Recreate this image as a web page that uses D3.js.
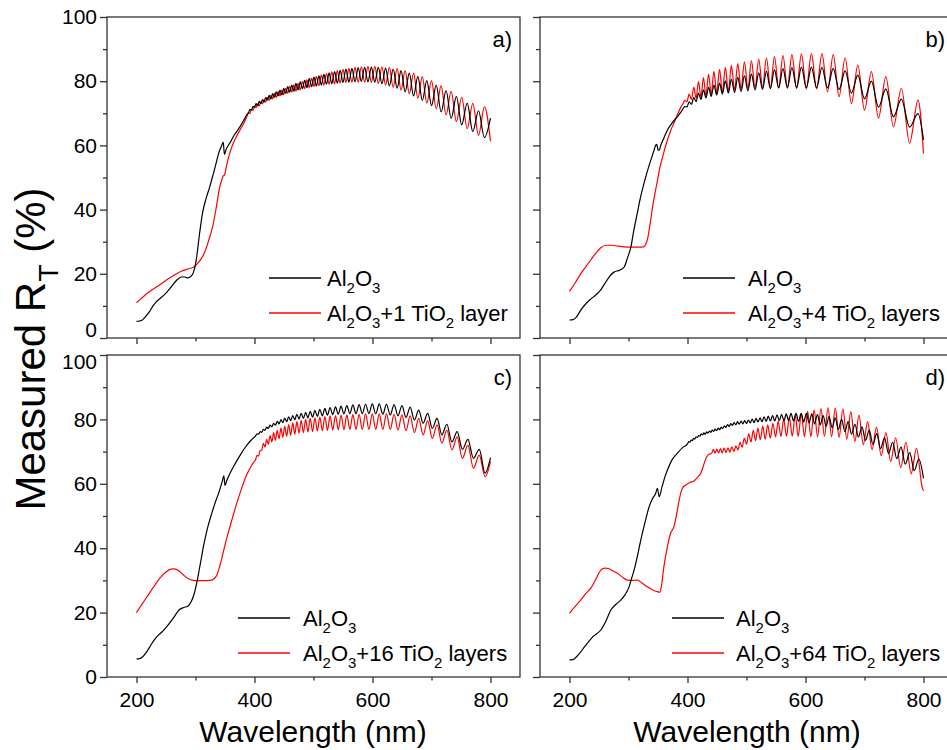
<!DOCTYPE html>
<html><head><meta charset="utf-8">
<script src="https://cdn.jsdelivr.net/npm/d3@7"></script>
<style>
body{margin:0;background:#fff;}
svg{display:block;font-family:Arial,"Liberation Sans",sans-serif;}
text{white-space:pre;}
</style></head><body>
<svg id="chart" width="947" height="750"></svg>
<script>
// ---------- axis / text data ----------
const xDomain = [150, 850];
const yDomain = [0, 100];
const xTicks = [200, 400, 600, 800];
const xMinor = [300, 500, 700];
const yTicks = [0, 20, 40, 60, 80, 100];
const yMinor = [10, 30, 50, 70, 90];
const panelLabels = ["a)", "b)", "c)", "d)"];
const blackName = "Al_{2}O_{3}";
const redNames = ["Al_{2}O_{3}+1 TiO_{2} layer", "Al_{2}O_{3}+4 TiO_{2} layers",
                  "Al_{2}O_{3}+16 TiO_{2} layers", "Al_{2}O_{3}+64 TiO_{2} layers"];
const xTitle = "Wavelength (nm)";
const yTitle = "Measured R_{T} (%)";

// ---------- panel a ----------
const aBlackLow = [[200,5.2],[205,5.3],[210,5.6],[216,6.8],[222,8.2],[228,10],[233,11.2],[240,12.3],[250,14],[260,16.2],[268,18],[276,19],[282,19],[287,18.7],[292,19.2],[296,20.2],[301,24],[307,32.7],[312,39],[318,43.5],[324,47],[330,51],[335,54.5],[340,58],[344,59.8],[347,61],[349,57.2],[352,58.8],[358,60.7],[366,63.3],[375,65.7],[383,68.2],[388,69.8]];
const aRedLow = [[200,11],[210,12.6],[220,14.2],[233,15.8],[245,17.3],[255,18.6],[265,19.7],[275,20.7],[285,21.4],[293,21.8],[298,22.2],[304,23.3],[310,24.8],[315,26.5],[320,29],[325,32],[329,34.6],[335,40.5],[341,47],[345,49.5],[347,50.5],[349,50.8],[353,54],[358,57.6],[363,60.2],[369,62.6],[376,65],[383,67.3],[388,69.4]];
const aWave = [389.9,392.4,394.9,397.4,400.0,402.6,405.3,407.9,410.7,413.4,416.2,419.0,421.9,424.8,427.8,430.8,433.8,436.9,440.0,443.2,446.4,449.6,452.9,456.3,459.7,463.2,466.7,470.2,473.8,477.5,481.3,485.0,488.9,492.8,496.8,500.8,504.9,509.1,513.3,517.6,522.0,526.5,531.0,535.7,540.4,545.1,550.0,555.0,560.0,565.1,570.4,575.7,581.1,586.7,592.3,598.1,603.9,609.9,616.0,622.2,628.6,635.1,641.7,648.4,655.3,662.4,669.6,676.9,684.4,692.1,700.0,708.0,716.3,724.7,733.3,742.2,751.2,760.5,770.0,779.7,789.7,800.0];
const aBlackFr = [70.2,71.2,71.0,72.2,71.9,73.0,72.4,73.7,73.0,74.3,73.5,75.0,74.1,75.6,74.5,76.1,75.0,76.7,75.4,77.2,75.7,77.8,76.2,78.3,76.6,78.8,76.9,79.3,77.3,79.8,77.7,80.3,78.0,80.8,78.3,81.3,78.5,81.7,78.8,82.1,79.1,82.6,79.2,83.0,79.4,83.4,79.6,83.8,79.7,84.0,79.8,84.2,79.9,84.3,79.8,84.4,79.7,84.3,79.2,84.1,78.5,83.8,77.8,83.3,76.7,82.5,75.4,81.5,74.0,80.2,72.4,78.8,70.4,77.1,68.4,75.3,66.4,73.2,64.3,70.8,62.4,68.5];
const aRedFr = [70.1,70.0,71.2,70.9,72.2,71.7,72.9,72.3,73.6,72.9,74.3,73.5,75.0,74.0,75.6,74.5,76.2,74.9,76.8,75.4,77.3,75.8,77.8,76.2,78.4,76.6,78.9,76.9,79.3,77.3,79.9,77.7,80.4,78.0,80.9,78.3,81.4,78.6,81.9,78.8,82.4,79.1,82.9,79.2,83.3,79.4,83.7,79.6,84.0,79.7,84.3,79.7,84.5,79.7,84.6,79.6,84.6,79.3,84.5,78.8,84.3,78.1,83.9,77.2,83.3,76.1,82.5,74.7,81.4,73.2,80.2,71.4,78.6,69.5,76.8,67.4,75.0,65.2,73.1,63.1,72.0,61.3];

// ---------- panel b ----------
const bBlackLow = [[200,5.6],[206,5.7],[212,6.6],[219,8.7],[227,10.5],[235,12],[244,13.3],[253,15],[260,17],[268,19.2],[276,20.6],[283,21],[288,21.4],[293,22.2],[298,24.8],[304,28.3],[309,33.5],[315,39],[320,43.5],[326,48],[332,52],[338,55.5],[343,58.3],[346,60],[348,60.3],[350,58.6],[352,58.5],[355,60.2],[360,62.3],[366,64.8],[374,67],[383,69],[390,70.7]];
const bRedLow = [[200,14.5],[210,17.3],[220,20.3],[228,22.3],[236,24.3],[245,26.5],[253,28.1],[262,28.9],[272,28.9],[282,28.6],[292,28.4],[304,28.3],[316,28.3],[326,28.4],[330,29.5],[333,31.5],[337,36],[341,41],[345,45.2],[349,49],[353,53],[358,56.5],[362,59.3],[366,61.7],[371,64.4],[377,67],[383,69.6],[389,72],[393,73.2]];
const bWave = [395.4,399.1,402.8,406.7,410.6,414.6,418.6,422.8,427.0,431.3,435.7,440.2,444.8,449.5,454.3,459.1,464.1,469.2,474.4,479.8,485.2,490.8,496.5,502.4,508.3,514.5,520.7,527.2,533.8,540.5,547.4,554.5,561.8,569.3,577.0,584.9,593.1,601.4,610.0,618.8,627.9,637.3,647.0,656.9,667.2,677.8,688.7,700.0,711.7,723.7,736.2,749.1,762.5,776.4,790.7,800.0];
const bBlackFr = [72.1,72.0,73.6,72.8,74.9,73.6,76.3,74.3,77.3,74.8,78.1,75.3,78.8,75.7,79.4,76.0,80.1,76.3,80.6,76.5,81.2,76.8,81.7,77.0,82.2,77.3,82.6,77.5,83.1,77.7,83.5,77.9,83.9,78.0,84.2,78.0,84.4,78.0,84.4,78.0,84.3,77.9,84.0,77.4,83.2,76.3,81.9,74.5,80.0,71.9,77.6,68.9,74.4,65.7,69.9,61.7];
const bRedFr = [74.0,73.6,76.0,74.3,78.2,74.7,79.9,75.0,81.1,75.4,82.2,75.9,83.1,76.2,83.7,76.5,84.3,76.8,84.9,77.2,85.5,77.5,86.0,77.7,86.4,77.8,86.9,77.9,87.3,77.9,87.7,77.9,88.0,77.8,88.3,77.7,88.5,77.6,88.6,77.6,88.6,76.7,88.3,75.2,87.3,73.0,85.0,71.0,83.0,68.5,81.4,65.8,77.8,60.7,74.1,57.5];

// ---------- panel c ----------
const cBlackLow = [[200,5.6],[205,5.7],[210,6.2],[216,7.5],[222,9.2],[228,11],[235,12.6],[245,14.3],[255,16.5],[265,19],[272,20.8],[280,21.6],[287,22],[293,23.5],[298,26],[303,30],[308,35],[314,41],[320,46],[327,50.5],[334,54.5],[340,57.5],[345,60.5],[348,62.5],[350,59.5],[353,61],[360,63.8],[368,66.5],[376,69],[385,71.5],[393,73.3],[399,74.4]];
const cRedLow = [[200,20],[210,22.8],[220,25.5],[230,28.2],[240,30.8],[250,32.6],[258,33.5],[265,33.6],[272,32.9],[280,31.6],[288,30.5],[296,30],[305,29.9],[315,29.9],[325,30],[332,30.6],[337,32],[342,35],[348,39.5],[355,44.5],[362,49],[370,54],[378,58.5],[386,62.5],[393,65],[398,66.6]];
const cWave = [401.6,404.2,406.8,409.5,412.2,415.0,417.8,420.6,423.5,426.4,429.4,432.4,435.4,438.5,441.6,444.8,448.0,451.2,454.5,457.9,461.3,464.8,468.3,471.8,475.5,479.1,482.9,486.7,490.5,494.4,498.4,502.4,506.5,510.7,515.0,519.3,523.6,528.1,532.6,537.3,542.0,546.7,551.6,556.5,561.6,566.7,572.0,577.3,582.7,588.3,593.9,599.6,605.5,611.4,617.5,623.7,630.1,636.6,643.2,649.9,656.8,663.8,671.0,678.3,685.8,693.5,701.4,709.4,717.6,726.0,734.6,743.4,752.4,761.7,771.1,780.9,790.8,800.0];
const cBlackFr = [74.8,75.5,75.4,76.2,76.0,76.9,76.6,77.6,77.2,78.2,77.7,78.8,78.2,79.4,78.6,79.9,79.0,80.4,79.3,80.8,79.6,81.2,79.9,81.6,80.1,81.9,80.3,82.2,80.5,82.5,80.7,82.8,80.9,83.1,81.1,83.4,81.3,83.7,81.5,83.9,81.6,84.1,81.7,84.3,81.8,84.5,81.8,84.6,81.8,84.7,81.8,84.8,81.7,84.8,81.6,84.7,81.4,84.6,81.1,84.3,80.6,83.8,79.8,82.9,78.8,81.9,77.2,80.3,75.2,78.5,73.0,76.2,70.7,73.8,67.9,70.7,63.3,68.1];
const cRedFr = [67.4,68.8,68.6,70.3,70.4,72.6,71.4,73.8,72.3,75.0,73.0,75.9,73.5,76.6,74.0,77.3,74.4,77.9,74.8,78.4,75.1,78.9,75.4,79.3,75.7,79.7,75.9,80.0,76.1,80.3,76.2,80.5,76.4,80.7,76.5,80.9,76.6,81.1,76.7,81.2,76.8,81.3,76.8,81.4,76.9,81.5,76.9,81.6,76.9,81.7,76.9,81.7,76.9,81.7,76.9,81.7,76.9,81.6,76.7,81.4,76.5,81.1,75.9,80.3,75.2,79.6,74.1,78.3,72.6,76.7,70.5,74.6,67.9,72.0,64.8,68.9,62.2,66.9];

// ---------- panel d ----------
const dBlackLow = [[200,5.3],[206,5.4],[212,6.3],[219,7.8],[225,9.3],[230.5,10.5],[240,12.6],[253,14.6],[262,17.5],[270,20.8],[279,22.6],[287,23.9],[294,25.5],[301,28],[305,30.5],[309.5,33.2],[315,37.5],[320.8,42.5],[328,48],[335,52.9],[341,55.5],[346,57],[349,58.6],[352,56],[357,59.2],[362,62.3],[366,64.3],[374,67.5],[383,69.5],[392,71.3]];
const dRedLow = [[200,19.8],[210,22],[219,23.9],[228,26],[236,27.5],[245,30.5],[253,33.2],[260,33.8],[266,33.7],[273,33],[281,32.2],[290,31],[298,30.1],[307,30],[315,30.1],[323,29.2],[332,28],[341,27],[349,26.5],[353,26.3],[356,28.5],[360,34.3],[366,40.5],[371,44.5],[377,46.7],[382,51],[386,55],[389,57.5],[392,58.8],[397,59.6],[404,60.4],[411,60.9],[417,62],[422.5,63.3],[426,65],[429,66.8],[432,68.2],[436,69.2]];
const dBlackWave = [400.0,402.0,404.0,406.1,408.2,410.3,412.4,414.5,416.7,418.8,421.1,423.3,425.5,427.8,430.1,432.4,434.8,437.2,439.6,442.0,444.4,446.9,449.4,452.0,454.5,457.1,459.8,462.4,465.1,467.8,470.6,473.4,476.2,479.0,481.9,484.8,487.8,490.8,493.8,496.9,500.0,503.1,506.3,509.6,512.8,516.1,519.5,522.9,526.3,529.8,533.3,536.9,540.5,544.2,547.9,551.7,555.6,559.4,563.4,567.4,571.4,575.5,579.7,584.0,588.2,592.6,597.0,601.5,606.1,610.7,615.4,620.2,625.0,629.9,634.9,640.0,645.2,650.4,655.7,661.2,666.7,672.3,678.0,683.8,689.7,695.7,701.8,708.0,714.3,720.7,727.3,733.9,740.7,747.7,754.7,761.9,769.2,776.7,784.3,792.1,800.0];
const dBlackFr = [72.4,73.1,72.9,73.6,73.4,74.1,73.9,74.6,74.4,75.0,74.8,75.5,75.2,75.8,75.4,76.1,75.7,76.4,76.0,76.7,76.3,77.0,76.5,77.3,76.8,77.6,77.2,78.0,77.5,78.4,77.8,78.7,78.1,79.0,78.3,79.3,78.5,79.5,78.6,79.6,78.7,79.8,78.9,80.1,79.0,80.3,79.2,80.5,79.3,80.8,79.4,81.0,79.5,81.2,79.5,81.4,79.6,81.6,79.6,81.7,79.6,81.9,79.5,81.9,79.4,81.9,79.2,81.9,78.9,81.7,78.6,81.5,78.3,81.2,77.9,80.9,77.4,80.5,76.9,80.0,76.2,79.3,75.4,78.5,74.5,77.7,73.5,76.7,72.2,75.6,70.9,74.3,69.4,72.9,67.8,71.4,66.1,69.7,64.1,67.7,61.7];
const dRedWave = [440.8,443.7,446.7,449.7,452.7,455.8,458.9,462.1,465.3,468.5,471.8,475.2,478.6,482.0,485.5,489.1,492.6,496.3,500.0,503.8,507.6,511.5,515.4,519.4,523.4,527.6,531.7,536.0,540.3,544.7,549.2,553.7,558.3,563.0,567.8,572.6,577.6,582.6,587.7,592.9,598.2,603.6,609.1,614.7,620.4,626.2,632.1,638.1,644.2,650.5,656.9,663.4,670.0,676.8,683.7,690.7,697.9,705.3,712.8,720.4,728.3,736.3,744.4,752.8,761.4,770.1,779.1,788.2,797.6,800.0];
const dRedFr = [69.4,70.7,69.5,70.8,69.6,70.9,69.6,71.1,69.7,71.2,69.8,71.5,70.0,71.8,70.5,72.9,71.3,74.2,72.3,75.5,73.0,76.6,73.4,77.3,73.7,77.9,73.9,78.3,74.2,78.8,74.6,79.4,74.7,80.1,74.8,80.7,74.8,81.3,74.7,81.9,74.6,82.5,74.6,83.0,74.6,83.4,74.7,83.7,74.6,83.6,74.4,83.3,73.8,82.4,73.1,81.3,72.1,79.3,70.6,77.6,68.7,75.9,66.9,74.3,65.0,72.9,63.1,71.0,59.0,57.8];

// ---------- build series ----------
const join = (low, wave, vals) => low.concat(wave.map((w, i) => [w, vals[i]]));
const series = [
  {black: join(aBlackLow, aWave, aBlackFr), red: join(aRedLow, aWave, aRedFr)},
  {black: join(bBlackLow, bWave, bBlackFr), red: join(bRedLow, bWave, bRedFr)},
  {black: join(cBlackLow, cWave, cBlackFr), red: join(cRedLow, cWave, cRedFr)},
  {black: join(dBlackLow, dBlackWave, dBlackFr), red: join(dRedLow, dRedWave, dRedFr)}
];

// ---------- layout ----------
const svg = d3.select("#chart");
const PW = 413;
const layout = [
  {left:107, top:17,  h:321, lx:269, gap:6,  ly:278, xlab:false, ylab:true},
  {left:540, top:17,  h:321, lx:683, gap:13, ly:278, xlab:false, ylab:false},
  {left:107, top:355, h:322, lx:238, gap:13, ly:618, xlab:true,  ylab:true},
  {left:540, top:355, h:322, lx:672, gap:12, ly:618, xlab:true,  ylab:false}
];
const FRAME = "#333";

function rich(textSel, str, size) {
  const parts = str.split(/(_\{[^}]*\})/).filter(s => s.length);
  let shifted = false;
  const sh = size * 0.3;
  parts.forEach(p => {
    if (p.startsWith("_{")) {
      textSel.append("tspan").text(p.slice(2, -1))
        .attr("font-size", size * 0.68).attr("dy", shifted ? 0 : sh);
      shifted = true;
    } else {
      textSel.append("tspan").text(p).attr("font-size", size)
        .attr("dy", shifted ? -sh : 0);
      shifted = false;
    }
  });
}

layout.forEach((p, k) => {
  const x = d3.scaleLinear().domain(xDomain).range([p.left, p.left + PW]);
  const y = d3.scaleLinear().domain(yDomain).range([p.top + p.h, p.top]);
  const g = svg.append("g");

  const clipId = "clip" + k;
  svg.append("clipPath").attr("id", clipId).append("rect")
    .attr("x", p.left).attr("y", p.top).attr("width", PW).attr("height", p.h);

  // axes
  const xa = g.append("g").attr("transform", `translate(0,${p.top + p.h})`)
    .call(d3.axisBottom(x).tickValues(xTicks).tickSize(6).tickPadding(9)
      .tickFormat(p.xlab ? d3.format("d") : () => ""));
  const xm = g.append("g").attr("transform", `translate(0,${p.top + p.h})`)
    .call(d3.axisBottom(x).tickValues(xMinor).tickSize(3.5).tickFormat(() => ""));
  const ya = g.append("g").attr("transform", `translate(${p.left},0)`)
    .call(d3.axisLeft(y).tickValues(yTicks).tickSize(7).tickPadding(3)
      .tickFormat(p.ylab ? d3.format("d") : () => ""));
  const ym = g.append("g").attr("transform", `translate(${p.left},0)`)
    .call(d3.axisLeft(y).tickValues(yMinor).tickSize(4).tickFormat(() => ""));
  [xa, xm, ya, ym].forEach(a => {
    a.select(".domain").remove();
    a.selectAll("line").attr("stroke", FRAME).attr("stroke-width", 1.3);
    a.selectAll("text").attr("font-size", 21).attr("fill", "#000")
      .attr("font-family", 'Arial,"Liberation Sans",sans-serif');
  });
  // keep the stacked "0" (upper panel) and "100" (lower panel) labels apart
  ya.selectAll(".tick text").attr("dy", d => {
    if (k < 2 && d === 0) return "-0.05em";
    if (k >= 2 && d === 100) return "0.62em";
    return "0.32em";
  });

  // data lines
  const line = d3.line().x(d => x(d[0])).y(d => y(d[1])).curve(d3.curveMonotoneX);
  const lg = g.append("g").attr("clip-path", `url(#${clipId})`);
  lg.append("path").datum(series[k].red).attr("d", line)
    .attr("fill", "none").attr("stroke", "#ff0000").attr("stroke-width", 1.2);
  lg.append("path").datum(series[k].black).attr("d", line)
    .attr("fill", "none").attr("stroke", "#000").attr("stroke-width", 1.2);

  // frame
  g.append("rect").attr("x", p.left).attr("y", p.top).attr("width", PW).attr("height", p.h)
    .attr("fill", "none").attr("stroke", FRAME).attr("stroke-width", 1.3);

  // panel label
  g.append("text").attr("x", p.left + PW - 8).attr("y", p.top + 30)
    .attr("text-anchor", "end").attr("font-size", 22).attr("fill", "#000")
    .text(panelLabels[k]);

  // legend
  const rows = [{name: blackName, color: "#000", yy: p.ly}, {name: redNames[k], color: "#ff0000", yy: p.ly + 35}];
  rows.forEach(r => {
    g.append("line").attr("x1", p.lx).attr("x2", p.lx + 52).attr("y1", r.yy).attr("y2", r.yy)
      .attr("stroke", r.color).attr("stroke-width", 1.3);
    const t = g.append("text").attr("x", p.lx + 52 + p.gap).attr("y", r.yy + 8).attr("fill", "#000");
    rich(t, r.name, 22);
  });
});

// axis titles
svg.append("text").attr("x", 313).attr("y", 742).attr("text-anchor", "middle")
  .attr("font-size", 30).attr("fill", "#000").text(xTitle);
svg.append("text").attr("x", 747).attr("y", 742).attr("text-anchor", "middle")
  .attr("font-size", 30).attr("fill", "#000").text(xTitle);
// y title: measured and centred explicitly (start anchor + half its length)
const yt = svg.append("text").attr("transform", "translate(45,349) rotate(-90)")
  .attr("text-anchor", "start").attr("fill", "#000").attr("x", 0);
rich(yt, yTitle, 42);
const ytLen = yt.node().getComputedTextLength();
yt.attr("x", -ytLen / 2);
</script>
</body></html>
